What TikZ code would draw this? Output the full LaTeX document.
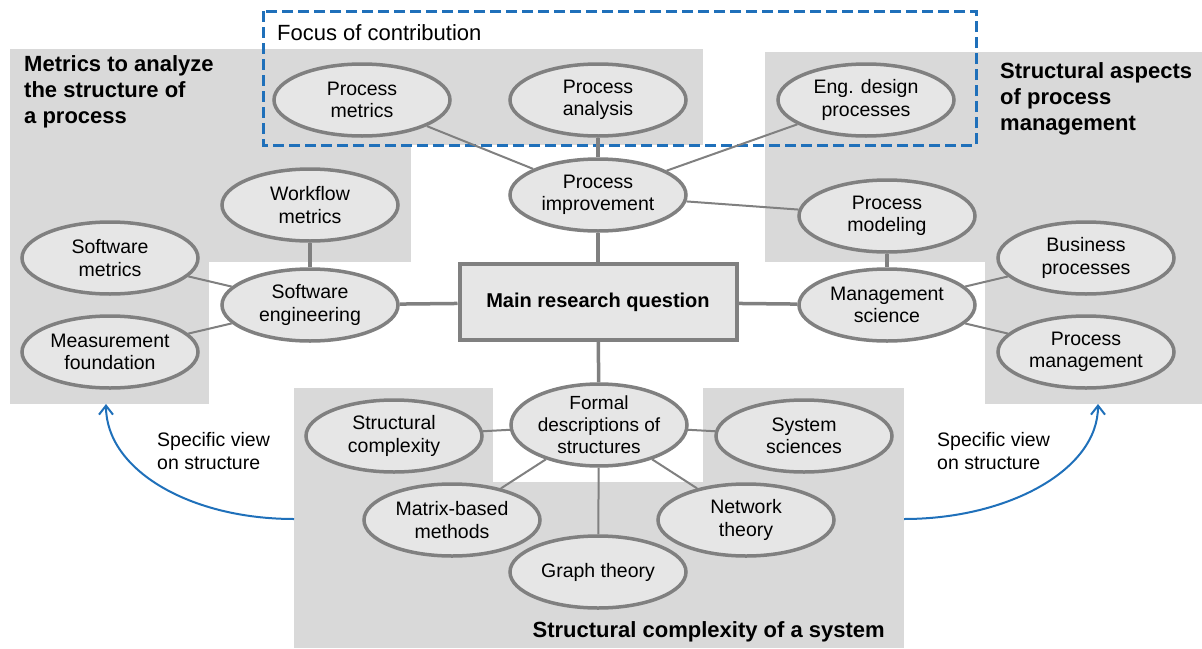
\documentclass[tikz,border=0pt]{standalone}
\usepackage{fontspec}
\setmainfont{Liberation Sans}
\usetikzlibrary{shapes.geometric,arrows.meta}
\definecolor{bgGray}{RGB}{217,217,217}
\definecolor{nodeFill}{RGB}{230,230,230}
\definecolor{lineGray}{RGB}{128,128,128}
\definecolor{focusBlue}{RGB}{31,112,186}

\begin{document}
\begin{tikzpicture}[x=1pt,y=-1pt,
	topic/.style={ellipse,draw=lineGray,fill=nodeFill,line width=3.5pt,minimum width=176pt,minimum height=72pt,inner sep=0pt,align=center,font=\fontsize{19.5}{22.5}\selectfont},
	question/.style={rectangle,draw=lineGray,fill=nodeFill,line width=4pt,minimum width=277pt,minimum height=76pt,font=\fontsize{20}{24}\selectfont\bfseries},
	link/.style={draw=lineGray,line width=2pt},
	mainlink/.style={draw=lineGray,line width=3.5pt},
	title/.style={align=left,inner sep=0pt,font=\fontsize{22}{26}\selectfont\bfseries},
	note/.style={anchor=west,align=left,inner sep=0pt,font=\fontsize{19.5}{23}\selectfont},
	view/.style={draw=focusBlue,line width=2pt,-{Straight Barb[length=9pt,width=14pt]}}]
	\useasboundingbox (0,0) rectangle (1202,648);
	% grey areas
	\fill[bgGray] (10,49) rectangle (411,262);
	\fill[bgGray] (10,49) rectangle (209,404);
	\fill[bgGray] (263,49) rectangle (703,145);
	\fill[bgGray] (765,52) rectangle (1202,262);
	\fill[bgGray] (985,52) rectangle (1202,404);
	\fill[bgGray] (294,388) rectangle (493,648);
	\fill[bgGray] (703,388) rectangle (904,648);
	\fill[bgGray] (294,482) rectangle (904,648);
	\draw[focusBlue,line width=3pt,dash pattern=on 11pt off 5pt] (263,11) rectangle (976,145);

	\node[anchor=west,inner sep=0pt,font=\fontsize{22}{26}\selectfont] (focus) at (277,33) {Focus of contribution};
	\node[title,anchor=west] (leftTitle) at (24,92) {Metrics to analyze\\the structure of\\a process};
	\node[title,anchor=west] (rightTitle) at (1000,99) {Structural aspects\\of process\\management};
	\node[title,anchor=east] (bottomTitle) at (885,632) {Structural complexity of a system};

	\node[question] (mainQ) at (598,302) {Main research question};

	\node[topic] (procMetrics) at (362,100) {Process\\metrics};
	\node[topic] (procAnalysis) at (598,100) {Process\\analysis};
	\node[topic] (engDesign) at (866,100) {Eng. design\\processes};
	\node[topic] (procImprove) at (598,195) {Process\\improvement};
	\node[topic] (workflow) at (310,205) {Workflow\\metrics};
	\node[topic] (swMetrics) at (110,258) {Software\\metrics};
	\node[topic] (swEng) at (310,305) {Software\\engineering};
	\node[topic] (measFound) at (110,352) {Measurement\\foundation};
	\node[topic] (procModel) at (887,216) {Process\\modeling};
	\node[topic] (mgmtSci) at (887,305) {Management\\science};
	\node[topic] (busProc) at (1086,258) {Business\\processes};
	\node[topic] (procMgmt) at (1086,352) {Process\\management};
	\node[topic,font=\fontsize{19}{22}\selectfont] (formal) at (599,425) {Formal\\descriptions of\\structures};
	\node[topic] (structCompl) at (394,436) {Structural\\complexity};
	\node[topic] (sysSci) at (804,436) {System\\sciences};
	\node[topic] (matrix) at (452,520) {Matrix-based\\methods};
	\node[topic] (network) at (746,520) {Network\\theory};
	\node[topic] (graph) at (598,572) {Graph theory};

	\foreach \a/\b in {procImprove/mainQ,swEng/mainQ,mainQ/mgmtSci,mainQ/formal,workflow/swEng,procModel/mgmtSci,procAnalysis/procImprove}
		\draw[mainlink] (\a) -- (\b);
	\foreach \a/\b in {procMetrics/procImprove,engDesign/procImprove,procImprove/procModel,swMetrics/swEng,measFound/swEng,mgmtSci/busProc,mgmtSci/procMgmt,formal/structCompl,formal/sysSci,formal/matrix,formal/graph,formal/network}
		\draw[link] (\a) -- (\b);

	\node[note] (leftNote) at (157,451) {Specific view\\on structure};
	\node[note] (rightNote) at (937,451) {Specific view\\on structure};
	\coordinate (leftStart) at (294,519);
	\coordinate (leftEnd) at (106,404);
	\coordinate (rightStart) at (904,519);
	\coordinate (rightEnd) at (1098,404);
	\draw[view] (leftStart) .. controls (190,519) and (106,470) .. (leftEnd);
	\draw[view] (rightStart) .. controls (1008,519) and (1098,470) .. (rightEnd);
\end{tikzpicture}
\end{document}
